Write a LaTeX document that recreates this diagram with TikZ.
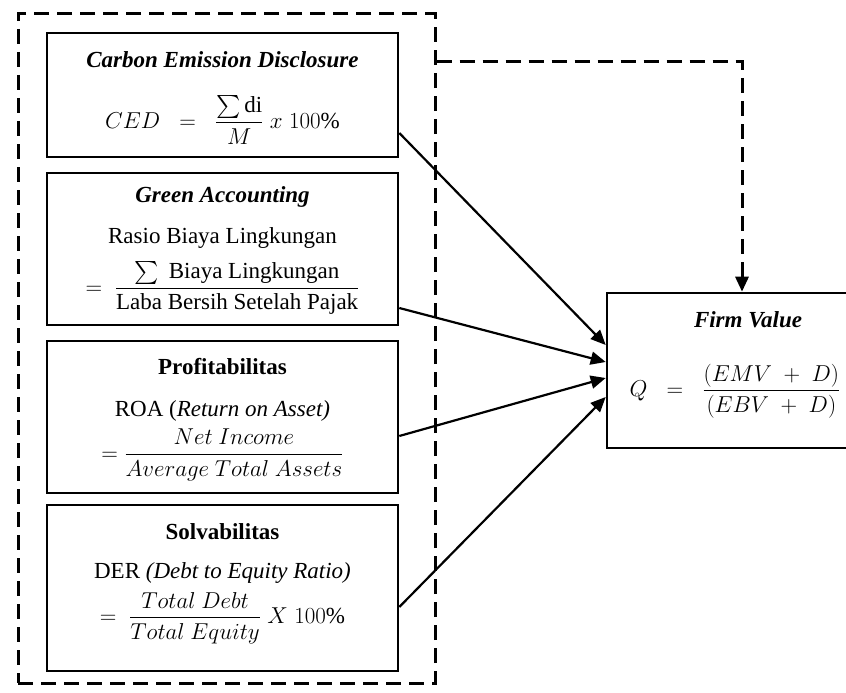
\RequirePackage{fix-cm}
\documentclass[tikz,border=0pt]{standalone}
\usepackage{amsmath,amssymb}
\usepackage{fontspec}
\setmainfont{Liberation Serif}
\usepackage{tikz}
\usetikzlibrary{arrows.meta,positioning,calc}
\newcommand{\diagfont}{\fontsize{23}{27}\selectfont}
\tikzset{
  block/.style   = {draw, line width=2.6pt, rectangle, inner sep=0pt},
  groupbox/.style= {draw, line width=3pt, rectangle, inner sep=0pt,
                    dash pattern=on 15pt off 8pt},
  head/.style    = {font=\diagfont\bfseries\itshape},
  sig/.style     = {-{Triangle[length=15pt,width=13pt]}, line width=2.2pt},
  fb/.style      = {-{Triangle[length=15pt,width=13pt]}, line width=3pt,
                    dash pattern=on 15pt off 8pt},
}

\begin{document}
\begin{tikzpicture}[font=\diagfont, x=1pt, y=-1pt]
\useasboundingbox (0,0) rectangle (846,693);
% ---------------- outer group ----------------
\node[groupbox, minimum width=417pt, minimum height=669pt] (grp) at (226.5,348.5) {};
% ---------------- independent variables ----------------
\node[block, minimum width=351pt, minimum height=124pt] (ced) at (222.5,95) {};
\node[head] (cedT) at (222.5,60) {Carbon Emission Disclosure};
\node (cedF) at (222.5,120) {$CED\;\;=\;\;\dfrac{\sum\mathrm{di}}{M}\;x\;100\%$};

\node[block, minimum width=351pt, minimum height=152pt] (ga) at (222.5,249) {};
\node[head] (gaT) at (222.5,197) {Green Accounting};
\node[inner sep=0pt] (gaL) at (222.5,238) {Rasio Biaya Lingkungan};
\node[inner sep=0pt] (gaF) at (222.5,288) {$=\;\dfrac{\sum\text{ Biaya Lingkungan}}{\text{Laba Bersih Setelah Pajak}}$};

\node[block, minimum width=351pt, minimum height=152pt] (roa) at (222.5,417) {};
\node[head, font=\diagfont\bfseries] (roaT) at (222.5,367) {Profitabilitas};
\node[inner sep=1pt] (roaL) at (222.5,411) {ROA (\textit{Return on Asset)}};
\node[inner sep=1pt] (roaF) at (222.5,455) {$=\dfrac{Net\ Income}{Average\ Total\ Assets}$};

\node[block, minimum width=351pt, minimum height=166pt] (der) at (222.5,588) {};
\node[head, font=\diagfont\bfseries] (derT) at (222.5,532) {Solvabilitas};
\node[inner sep=1pt] (derL) at (222.5,573) {DER \textit{(Debt to Equity Ratio)}};
\node[inner sep=1pt] (derF) at (222.5,618) {$=\;\dfrac{Total\ Debt}{Total\ Equity}\;X\;100\%$};
% ---------------- dependent variable ----------------
\node[block, minimum width=243pt, minimum height=155pt] (firm) at (728.5,370.5) {};
\node[head] (firmT) at (748,320) {Firm Value};
\node (firmF) at (735,391) {$Q\;\;=\;\;\dfrac{(EMV\;+\;D)}{(EBV\;+\;D)}$};
% ---------------- connectors ----------------
\draw[sig] ([yshift=-38pt]ced.east) -- ([yshift=25.5pt]firm.west);
\draw[sig] ([yshift=-59pt]ga.east)  -- ([yshift=8.5pt]firm.west);
\draw[sig] ([yshift=-19pt]roa.east) -- ([yshift=-7.5pt]firm.west);
\draw[sig] ([yshift=-19pt]der.east) -- ([yshift=-26.5pt]firm.west);
% simultaneous effect
\coordinate (tap) at ([yshift=-49pt]grp.north east);
\draw[fb] (tap) -| ([xshift=13.5pt]firm.north);
\end{tikzpicture}
\end{document}
